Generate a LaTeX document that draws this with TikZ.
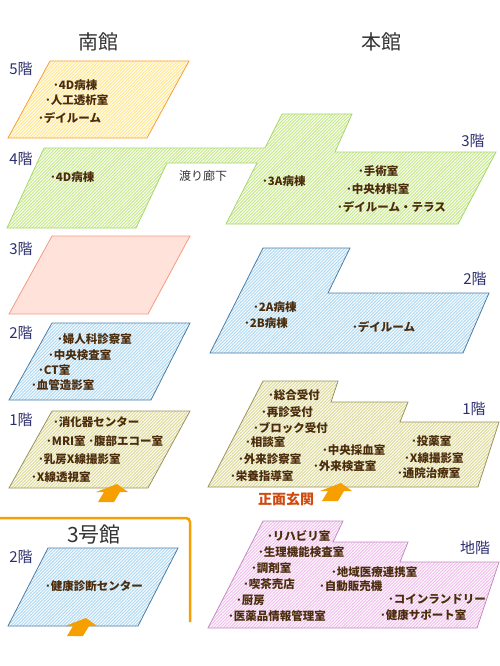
\documentclass[tikz,border=0pt]{standalone}
\usepackage{fontspec}
\setmainfont{Noto Sans CJK JP}
\usetikzlibrary{patterns.meta}

\definecolor{roomtext}{HTML}{4B2C0C}
\definecolor{floortext}{HTML}{2D2E6E}
\definecolor{bldgtext}{HTML}{333333}
\definecolor{entrytext}{HTML}{D04A10}
\definecolor{entryorange}{HTML}{F5A000}
\definecolor{yellowfill}{HTML}{FFE890}
\definecolor{yellowline}{HTML}{F5A23C}
\definecolor{greenfill}{HTML}{C8EA8C}
\definecolor{greenline}{HTML}{A9D774}
\definecolor{salmonfill}{HTML}{FFE3DA}
\definecolor{salmonline}{HTML}{F59A80}
\definecolor{bluefill}{HTML}{B0DAF2}
\definecolor{blueline}{HTML}{4F7FA8}
\definecolor{beigefill}{HTML}{DEDA98}
\definecolor{beigeline}{HTML}{9C9460}
\definecolor{pinkfill}{HTML}{F0C0EC}
\definecolor{pinkline}{HTML}{C48CC4}

\begin{document}
\begin{tikzpicture}[x=1pt,y=-1pt,
  room/.style={anchor=west,inner sep=0pt,text=roomtext,font=\fontsize{11.5}{13}\selectfont\bfseries},
  floorno/.style={inner sep=0pt,text=floortext,font=\fontsize{15}{17}\selectfont},
  bldg/.style={inner sep=0pt,text=bldgtext,font=\fontsize{20}{22}\selectfont},
  plate/.style 2 args={draw=#1,line width=0.8pt,preaction={fill=#2},
    pattern={Lines[angle=45,distance=2.2pt,line width=0.9pt]},pattern color=white},
  entryarrow/.pic={\fill[entryorange] (0,0) -- ++(11,8) -- ++(-8,0) -- ++(-6,10)
    -- ++(-16,0) -- ++(6,-10) -- ++(-8,0) -- cycle;}]
\useasboundingbox (0,0) rectangle (500,666);

% building names
\node[bldg] (south) at (98,42) {南館};
\node[bldg] (main) at (381,42) {本館};
\node[bldg,font=\fontsize{21}{23}\selectfont] (annex) at (94,535) {3号館};
\draw[entryorange,line width=2.5pt,rounded corners=4pt] (0,518) -- (190,518) -- (190,622);

% floor plates
\draw[plate={yellowline}{yellowfill}] (50,61) -- (189,61) -- (147,138) -- (8,138) -- cycle;
\draw[plate={greenline}{greenfill}] (44,148) -- (265,148) -- (282,114) -- (352,114) -- (335,152)
  -- (496,152) -- (458,224) -- (226,224) -- (257,163) -- (167,163) -- (136,228) -- (7,228) -- cycle;
\draw[salmonline,fill=salmonfill,line width=0.8pt] (52,236) -- (190,236) -- (148,314) -- (9,314) -- cycle;
\draw[plate={blueline}{bluefill}] (52,323) -- (190,323) -- (151,400) -- (9,400) -- cycle;
\draw[plate={blueline}{bluefill}] (263,248) -- (350,248) -- (328,293) -- (489,293) -- (463,353) -- (210,353) -- cycle;
\draw[plate={beigeline}{beigefill}] (52,411) -- (190,411) -- (148,488) -- (9,488) -- cycle;
\draw[plate={beigeline}{beigefill}] (263,381) -- (338,381) -- (331,402) -- (408,402) -- (400,422)
  -- (499,422) -- (478,487) -- (208,487) -- cycle;
\draw[plate={pinkline}{pinkfill}] (263,521) -- (343,521) -- (333,542) -- (408,542) -- (400,562)
  -- (499,562) -- (477,628) -- (208,628) -- cycle;
\draw[plate={blueline}{bluefill}] (48,548) -- (178,548) -- (138,626) -- (8,626) -- cycle;

% entrances
\pic at (117,484) {entryarrow};
\pic at (341,483) {entryarrow};
\pic at (86,618) {entryarrow};
\node[inner sep=0pt,text=entrytext,font=\fontsize{14}{16}\selectfont\bfseries] (entrance) at (286,499) {正面玄関};

% floor numbers
\foreach \x/\y/\t [count=\i] in {21/69/5階,21/159/4階,21/249/3階,21/333/2階,21/420/1階,21/557/2階,
  473/141/3階,475/279/2階,474/409/1階,475/548/地階}
  \node[floorno] (fl\i) at (\x,\y) {\t};
\node[inner sep=0pt,text=bldgtext,font=\fontsize{12}{14}\selectfont] (bridge) at (203,176) {渡り廊下};

% rooms, south wing
\foreach \x/\y/\t [count=\i] in {53/85/･4D病棟,45/100/･人工透析室,38/118/･デイルーム,50/177/･4D病棟,
  57/339/･婦人科診察室,48/355/･中央検査室,38/370/･CT室,31/385/･血管造影室,
  53/422/･消化器センター,46/441/･MRI室 ･腹部エコー室,38/459/･乳房X線撮影室,31/477/･X線透視室,
  45/586/･健康診断センター}
  \node[room] (s\i) at (\x,\y) {\t};

% rooms, main wing
\foreach \x/\y/\t [count=\i] in {262/181/･3A病棟,358/171/･手術室,346/189/･中央材料室,337/207/･デイルーム・テラス,
  253/307/･2A病棟,244/323/･2B病棟,352/327/･デイルーム,
  268/395/･総合受付,261/412/･再診受付,253/428/･ブロック受付,245/442/･相談室,238/459/･外来診察室,
  230/476/･栄養指導室,322/450/･中央採血室,313/466/･外来検査室,411/441/･投薬室,404/458/･X線撮影室,
  397/473/･通院治療室,
  267/536/･リハビリ室,258/552/･生理機能検査室,251/568/･調剤室,243/584/･喫茶売店,236/600/･厨房,
  228/616/･医薬品情報管理室,331/572/･地域医療連携室,319/586/･自動販売機,388/599/･コインランドリー,
  380/615/･健康サポート室}
  \node[room] (m\i) at (\x,\y) {\t};
\end{tikzpicture}
\end{document}
